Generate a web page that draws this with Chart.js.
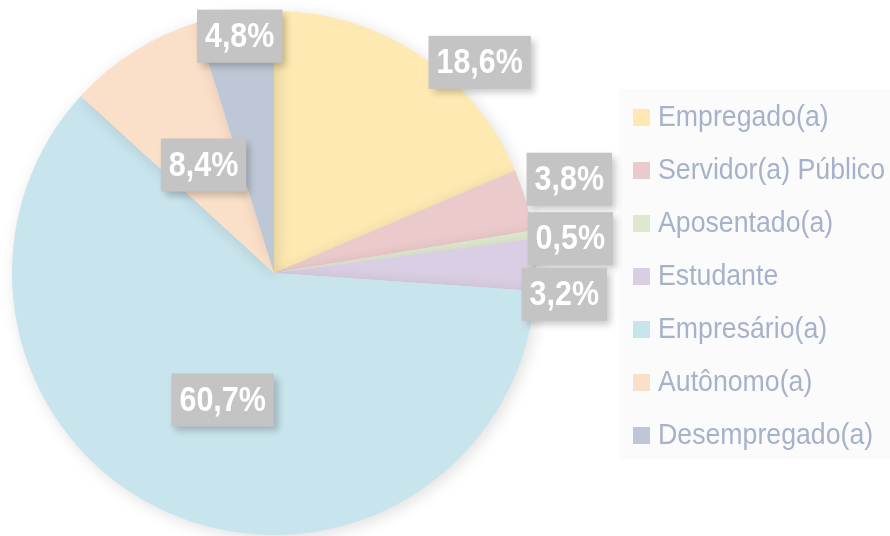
<!DOCTYPE html>
<html>
<head>
<meta charset="utf-8">
<script src="https://cdn.jsdelivr.net/npm/chart.js@4"></script>
<style>
  html, body { margin: 0; padding: 0; background: #ffffff; }
  #wrap { width: 890px; height: 536px; position: relative; }
</style>
</head>
<body>
<div id="wrap"><canvas id="pieChart" width="890" height="536"></canvas></div>
<script>
const categories = [
    "Empregado(a)",
    "Servidor(a) Público",
    "Aposentado(a)",
    "Estudante",
    "Empresário(a)",
    "Autônomo(a)",
    "Desempregado(a)",
];
const shares = [18.6, 3.8, 0.5, 3.2, 60.7, 8.4, 4.8];
const sliceColors = ["#fde9b1", "#ebcacb", "#dee8cd", "#d9cee3", "#c8e4ec", "#fadfc9", "#bec7d5"];

// label box offsets from the pie centre, in units of the radius
const labelOffsets = [
    [0.785, -0.804],
    [1.127, -0.358],
    [1.131, -0.131],
    [1.108, 0.081],
    [-0.196, 0.485],
    [-0.269, -0.412],
    [-0.131, -0.904],
];

const sans = '"Liberation Sans", Arial, sans-serif';
const labelSqueeze = 0.87;
const legendSqueeze = 0.89;

// soft glow under the pie
const pieShadow = {
    id: "pieShadow",
    beforeDatasetsDraw(chart) {
        const ctx = chart.ctx;
        ctx.save();
        ctx.shadowColor = "rgba(0,0,0,0.13)";
        ctx.shadowBlur = 16;
        ctx.shadowOffsetX = 3;
        ctx.shadowOffsetY = 3;
    },
    afterDatasetsDraw(chart) {
        chart.ctx.restore();
    },
};

const pctLabels = {
    id: "pctLabels",
    afterDatasetsDraw(chart) {
        const ctx = chart.ctx;
        const arcs = chart.getDatasetMeta(0).data;
        ctx.save();
        ctx.font = "bold 35px " + sans;
        ctx.textAlign = "center";
        ctx.textBaseline = "middle";
        arcs.forEach((arc, i) => {
            const r = arc.outerRadius;
            const x = arc.x + labelOffsets[i][0] * r;
            const y = arc.y + labelOffsets[i][1] * r;
            const txt = shares[i].toFixed(1).replace(".", ",") + "%";
            const w = ctx.measureText(txt).width * labelSqueeze + 16;
            const h = 53;
            ctx.shadowColor = "rgba(0,0,0,0.22)";
            ctx.shadowBlur = 7;
            ctx.shadowOffsetX = 4;
            ctx.shadowOffsetY = 4;
            ctx.fillStyle = "#c4c4c4";
            ctx.fillRect(x - w / 2, y - h / 2, w, h);
            ctx.shadowColor = "transparent";
            ctx.fillStyle = "#ffffff";
            ctx.save();
            ctx.translate(x, y + 1);
            ctx.scale(labelSqueeze, 1);
            ctx.fillText(txt, 0, 0);
            ctx.restore();
        });
        ctx.restore();
    },
};

const sideLegend = {
    id: "sideLegend",
    beforeDraw(chart) {
        const ctx = chart.ctx;
        ctx.save();
        ctx.fillStyle = "#fbfbfc";
        ctx.fillRect(619, 89, 271, 370);
        ctx.restore();
    },
    afterDraw(chart) {
        const ctx = chart.ctx;
        const left = chart.chartArea.right + 97;
        ctx.save();
        ctx.font = "30px " + sans;
        ctx.textBaseline = "middle";
        categories.forEach((name, i) => {
            const y = 117 + i * 53;
            ctx.fillStyle = sliceColors[i];
            ctx.fillRect(left, y - 8, 17, 17);
            ctx.fillStyle = "#a6b2ca";
            ctx.save();
            ctx.translate(left + 25, y + 1);
            ctx.scale(legendSqueeze, 1);
            ctx.fillText(name, 0, 0);
            ctx.restore();
        });
        ctx.restore();
    },
};

new Chart(document.getElementById("pieChart"), {
    type: "pie",
    data: {
        labels: categories,
        datasets: [
            {
                data: shares,
                backgroundColor: sliceColors,
                borderWidth: 0,
            },
        ],
    },
    options: {
        responsive: false,
        animation: false,
        layout: { padding: { left: 12, right: 354, top: 11, bottom: 1 } },
        plugins: {
            legend: { display: false },
            tooltip: { enabled: false },
        },
    },
    plugins: [pieShadow, pctLabels, sideLegend],
});
</script>
</body>
</html>
